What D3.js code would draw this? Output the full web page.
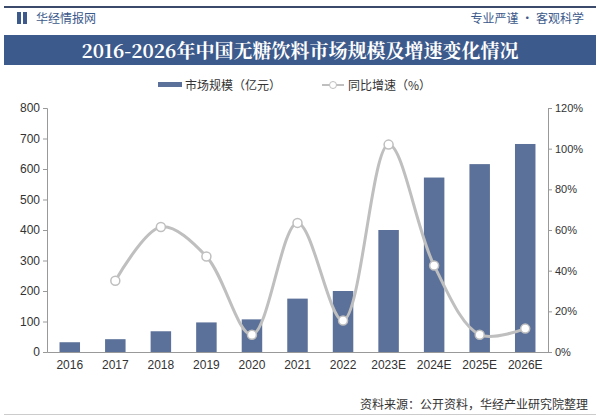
<!DOCTYPE html><html><head><meta charset="utf-8"><script src="https://cdn.jsdelivr.net/npm/d3@7"></script>
<style>body{margin:0;background:#fff}svg{font-family:"Noto Sans CJK SC",sans-serif}</style></head><body><svg width="600" height="418"></svg>
<script>
const years=["2016","2017","2018","2019","2020","2021","2022","2023E","2024E","2025E","2026E"];
const market=[32,42,68,97,107,175,200,400,572,616,682];
const growth=[null,35,61.5,47,8.5,63.5,15.5,102,42.5,8.5,11.5];
const leftTicks=[0,100,200,300,400,500,600,700,800];
const rightTicks=[0,20,40,60,80,100,120];
const svg=d3.select("svg");
svg.append("rect").attr("x",4).attr("y",6).attr("width",592).attr("height",2).attr("fill","#3b4a6b");
svg.append("rect").attr("x",17).attr("y",12).attr("width",4).attr("height",12).attr("fill","#3d5a8c");
svg.append("rect").attr("x",23).attr("y",12).attr("width",4).attr("height",12).attr("fill","#3d5a8c");
svg.append("text").attr("x",36).attr("y",23).attr("font-size",12).attr("fill","#3d5a8c").text("华经情报网");
svg.append("text").attr("x",584).attr("y",23).attr("text-anchor","end").attr("font-size",12).attr("fill","#3d5a8c").text("专业严谨 • 客观科学");
svg.append("rect").attr("x",4).attr("y",35).attr("width",592).attr("height",30).attr("fill","#3d5a8c");
svg.append("text").attr("x",300).attr("y",58).attr("text-anchor","middle").attr("font-size",19).attr("font-weight","bold").attr("fill","#fff").attr("font-family","Noto Serif CJK SC, Noto Sans CJK SC").text("2016-2026年中国无糖饮料市场规模及增速变化情况");
// legend
svg.append("rect").attr("x",158).attr("y",82).attr("width",24).attr("height",5).attr("fill","#5b7199");
svg.append("text").attr("x",185).attr("y",90).attr("font-size",12).attr("fill","#333").text("市场规模（亿元）");
svg.append("line").attr("x1",322).attr("x2",344).attr("y1",85).attr("y2",85).attr("stroke","#bfbfbf").attr("stroke-width",2);
svg.append("circle").attr("cx",333).attr("cy",85).attr("r",3.5).attr("fill","#fff").attr("stroke","#bfbfbf");
svg.append("text").attr("x",348).attr("y",90).attr("font-size",12).attr("fill","#333").text("同比增速（%）");
const L=47,R=548,T=108,B=352;
const x=d3.scaleBand().domain(years).range([L,R]).paddingInner(0.55).paddingOuter(0.275);
const y=d3.scaleLinear().domain([0,800]).range([B,T]);
const y2=d3.scaleLinear().domain([0,120]).range([B,T]);
const la=svg.append("g").attr("transform",`translate(${L},0)`).call(d3.axisLeft(y).tickValues(leftTicks).tickSize(4));
const ra=svg.append("g").attr("transform",`translate(${R},0)`).call(d3.axisRight(y2).tickValues(rightTicks).tickSize(4).tickFormat(d=>d+"%"));
const xa=svg.append("g").attr("transform",`translate(0,${B})`).call(d3.axisBottom(x).tickSize(0).tickPadding(8));
[la,ra,xa].forEach(a=>{a.selectAll("path,line").attr("stroke","#999");a.selectAll("text").attr("font-size",12).attr("fill","#333").attr("font-family","Liberation Sans Narrow, Arial Narrow, sans-serif");});
ra.selectAll("text").attr("font-size",11);
svg.append("g").selectAll("rect").data(years).join("rect").attr("x",d=>x(d)).attr("width",x.bandwidth())
 .attr("y",(d,i)=>y(market[i])).attr("height",(d,i)=>B-y(market[i])).attr("fill","#5b7199");
const pts=years.map((d,i)=>[x(d)+x.bandwidth()/2,growth[i]]).filter(p=>p[1]!=null);
svg.append("path").attr("d",d3.line().x(p=>p[0]).y(p=>y2(p[1])).curve(d3.curveCatmullRom.alpha(0.5))(pts))
 .attr("fill","none").attr("stroke","#bfbfbf").attr("stroke-width",3);
svg.append("g").selectAll("circle").data(pts).join("circle").attr("cx",p=>p[0]).attr("cy",p=>y2(p[1])).attr("r",4.5)
 .attr("fill","#fff").attr("stroke","#bfbfbf").attr("stroke-width",1.5);
svg.append("text").attr("x",588).attr("y",409).attr("text-anchor","end").attr("font-size",12).attr("fill","#333").text("资料来源：公开资料，华经产业研究院整理");
svg.append("rect").attr("x",4).attr("y",414).attr("width",592).attr("height",1).attr("fill","#ccc");
</script></body></html>
